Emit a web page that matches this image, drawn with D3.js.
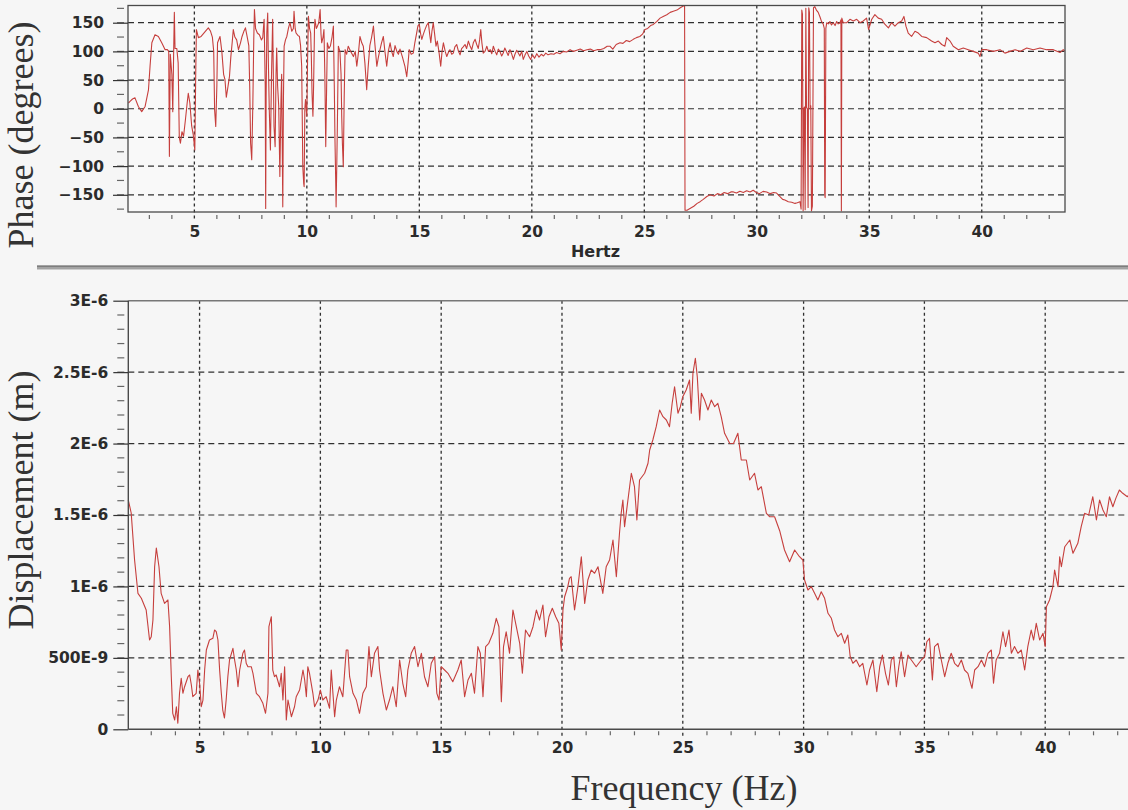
<!DOCTYPE html>
<html>
<head>
<meta charset="utf-8">
<script src="https://cdn.jsdelivr.net/npm/d3@7"></script>
<style>
  html, body { margin: 0; padding: 0; background: #f6f6f6; }
  svg { display: block; }
  .tick text { font-family: "DejaVu Sans", Verdana, sans-serif; font-weight: bold; font-size: 15.5px; fill: #2b2b2b; }
  .axis-title { font-family: "Liberation Serif", "Times New Roman", serif; font-size: 36px; fill: #333; }
  .unit-label { font-family: "DejaVu Sans", Verdana, sans-serif; font-weight: bold; font-size: 16px; fill: #2b2b2b; }
</style>
</head>
<body>
<svg id="chart" width="1128" height="810"></svg>
<script>
// ---- Phase response (degrees) vs frequency (Hz) ----
const phaseFreq = [
  2.07,2.14,2.25,2.36,2.51,2.66,2.81,2.96,3.03,3.11,3.25,3.40,3.55,3.70,3.80,3.86,3.89,3.93,4.00,4.04,
  4.08,4.11,4.14,4.22,4.28,4.33,4.38,4.45,4.52,4.60,4.68,4.73,4.80,4.88,4.95,5.02,5.06,5.09,5.18,5.30,
  5.45,5.62,5.72,5.80,5.86,5.90,5.95,6.00,6.03,6.14,6.22,6.30,6.36,6.42,6.48,6.56,6.62,6.68,6.73,6.80,
  6.88,6.96,7.05,7.12,7.20,7.27,7.35,7.42,7.46,7.50,7.55,7.60,7.64,7.67,7.72,7.80,7.89,7.98,8.04,8.10,
  8.15,8.17,8.19,8.22,8.26,8.29,8.33,8.38,8.43,8.48,8.51,8.54,8.59,8.63,8.66,8.70,8.75,8.80,8.85,8.88,
  8.91,8.93,8.96,8.99,9.05,9.11,9.18,9.25,9.33,9.40,9.43,9.48,9.52,9.60,9.67,9.72,9.77,9.80,9.82,9.86,
  9.88,9.91,9.94,9.97,10.00,10.03,10.07,10.12,10.17,10.20,10.23,10.27,10.30,10.34,10.36,10.42,10.47,10.53,10.59,10.63,
  10.66,10.72,10.76,10.80,10.84,10.88,10.91,10.98,11.05,11.12,11.18,11.22,11.25,11.28,11.30,11.33,11.36,11.40,11.47,11.52,
  11.55,11.58,11.62,11.66,11.70,11.77,11.84,11.95,12.07,12.15,12.22,12.30,12.36,12.44,12.51,12.58,12.66,12.72,12.80,12.88,
  12.96,13.03,13.11,13.18,13.25,13.32,13.40,13.47,13.55,13.62,13.70,13.77,13.84,13.92,14.00,14.07,14.14,14.25,14.36,14.44,
  14.50,14.55,14.64,14.73,14.80,14.88,14.94,15.00,15.06,15.11,15.18,15.25,15.32,15.40,15.46,15.51,15.56,15.62,15.68,15.74,
  15.80,15.87,15.95,16.01,16.07,16.15,16.22,16.29,16.36,16.44,16.51,16.58,16.66,16.74,16.81,16.88,16.95,17.03,17.10,17.18,
  17.25,17.33,17.40,17.48,17.55,17.62,17.68,17.73,17.78,17.84,17.92,18.00,18.07,18.15,18.22,18.29,18.37,18.44,18.51,18.58,
  18.66,18.73,18.80,18.88,18.95,19.03,19.10,19.18,19.25,19.33,19.40,19.47,19.55,19.62,19.70,19.78,19.86,19.95,20.03,20.12,
  20.22,20.32,20.42,20.52,20.62,20.72,20.85,20.98,21.10,21.25,21.40,21.55,21.70,21.85,22.00,22.15,22.30,22.45,22.60,22.75,
  22.90,23.03,23.20,23.35,23.47,23.60,23.75,23.92,24.05,24.20,24.35,24.51,24.65,24.80,24.92,25.03,25.15,25.28,25.40,25.55,
  25.70,25.84,26.00,26.15,26.29,26.45,26.60,26.73,26.79,26.81,26.90,27.03,27.20,27.35,27.48,27.62,27.78,27.92,28.10,28.25,
  28.40,28.55,28.70,28.85,28.96,29.10,29.25,29.40,29.55,29.70,29.84,29.98,30.12,30.28,30.44,30.60,30.75,30.88,31.03,31.15,
  31.25,31.40,31.55,31.70,31.80,31.92,31.97,32.00,32.03,32.06,32.09,32.12,32.15,32.18,32.21,32.25,32.28,32.31,32.34,32.37,
  32.40,32.43,32.47,32.52,32.58,32.65,32.73,32.81,32.88,32.95,33.00,33.02,33.04,33.07,33.11,33.18,33.25,33.32,33.40,33.48,
  33.55,33.62,33.70,33.74,33.76,33.78,33.84,33.92,34.00,34.14,34.29,34.44,34.59,34.73,34.88,34.97,35.11,35.25,35.40,35.55,
  35.70,35.85,35.99,36.14,36.29,36.44,36.54,36.63,36.73,36.88,37.03,37.18,37.33,37.55,37.77,37.92,38.07,38.22,38.36,38.44,
  38.59,38.73,38.96,39.18,39.40,39.62,39.84,39.92,40.00,40.22,40.51,40.81,41.03,41.25,41.48,41.70,42.00,42.29,42.59,42.88,
  43.18,43.48,43.62,43.70
];
const phaseDeg = [
  10,13,17,19,4,-5,4,33,74,115,129,126,115,103,103,100,-83,95,60,-5,
  100,168,105,105,80,-50,-60,-40,-48,-20,10,27,10,-30,-45,-72,60,138,124,126,
  133,141,135,125,100,-2,-31,40,115,126,100,60,51,20,35,56,90,115,138,125,
  120,103,115,126,135,141,125,110,40,-60,-89,10,120,173,140,132,129,120,124,156,
  40,-174,20,132,167,80,-2,-72,60,156,60,-31,-66,60,106,40,4,-118,16,60,
  -80,-171,20,109,120,126,140,150,135,140,170,140,132,128,126,110,74,-30,-101,-130,
  -136,0,16,0,-13,80,161,140,132,90,27,-13,40,140,156,140,144,150,173,130,
  115,125,138,60,-66,40,115,105,110,125,144,40,-54,-120,-171,-100,-19,109,100,60,
  -13,-60,-101,20,103,95,109,100,91,100,74,100,126,115,109,80,33,70,110,125,
  144,110,74,90,103,115,126,100,74,100,115,100,91,110,100,95,104,90,74,56,
  80,103,95,97,115,132,145,147,130,121,130,138,145,150,130,115,135,150,130,109,
  118,100,74,100,115,100,91,98,103,95,97,108,112,100,94,105,108,112,105,118,
  110,103,115,121,112,105,120,138,115,97,100,109,100,103,96,109,100,94,104,100,
  92,97,106,99,93,103,96,86,95,102,97,92,100,86,94,100,92,86,94,88,
  96,90,95,92,97,94,96,95,98,96,100,99,103,100,102,104,101,103,104,101,
  103,103,105,109,109,104,112,115,114,119,117,121,124,126,130,138,140,145,147,152,
  158,161,164,168,170,172,176,179,179,-177,-177,-174,-170,-165,-162,-158,-153,-150,-152,-148,
  -150,-146,-148,-145,-145,-147,-144,-146,-143,-145,-142,-146,-148,-144,-145,-148,-146,-147,-153,-158,
  -159,-162,-163,-165,-164,-162,-175,172,165,-178,0,3,-176,175,2,0,-172,176,168,0,
  5,-178,-170,176,178,172,168,160,152,148,140,-150,-155,140,150,148,152,146,150,145,
  152,148,150,155,-178,158,150,150,150,156,153,156,150,153,158,138,156,164,158,156,
  147,141,150,144,150,153,161,144,132,126,135,132,126,124,118,115,118,112,109,124,
  118,109,103,106,103,100,97,91,103,103,100,103,97,100,103,100,106,103,106,103,
  103,98,103,100
];

// ---- Displacement amplitude (nanometres) vs frequency (Hz) ----
const dispFreq = [
  2.05,2.17,2.31,2.45,2.59,2.79,2.93,3.00,3.07,3.14,3.21,3.32,3.41,3.55,3.69,3.76,3.83,3.89,3.97,4.04,
  4.10,4.17,4.24,4.31,4.38,4.52,4.59,4.66,4.72,4.86,4.93,5.00,5.07,5.14,5.21,5.28,5.41,5.55,5.62,5.69,
  5.76,5.83,5.90,5.96,6.03,6.10,6.17,6.24,6.38,6.45,6.52,6.59,6.66,6.79,6.86,6.93,7.00,7.14,7.21,7.35,
  7.48,7.62,7.73,7.83,7.87,7.97,8.03,8.10,8.17,8.31,8.38,8.45,8.52,8.59,8.66,8.80,8.93,9.00,9.14,9.28,
  9.35,9.42,9.48,9.55,9.69,9.76,9.90,10.00,10.10,10.24,10.38,10.45,10.59,10.66,10.79,10.93,11.07,11.14,11.21,11.35,
  11.49,11.62,11.76,11.90,12.01,12.11,12.24,12.38,12.45,12.59,12.73,12.86,13.00,13.14,13.28,13.41,13.53,13.62,13.76,13.90,
  14.04,14.18,14.31,14.45,14.59,14.73,14.82,14.91,15.00,15.14,15.28,15.48,15.69,15.83,15.97,16.11,16.25,16.38,16.52,16.62,
  16.73,16.84,16.97,17.14,17.28,17.39,17.49,17.58,17.69,17.83,17.97,18.11,18.25,18.36,18.49,18.66,18.80,18.94,19.07,19.21,
  19.32,19.46,19.60,19.74,19.87,19.97,20.04,20.11,20.24,20.31,20.38,20.52,20.66,20.80,20.94,21.07,21.21,21.35,21.49,21.69,
  21.83,21.97,22.11,22.25,22.38,22.45,22.52,22.59,22.66,22.87,23.00,23.10,23.21,23.42,23.56,23.63,23.76,23.90,24.04,24.18,
  24.32,24.45,24.56,24.66,24.80,24.90,25.00,25.14,25.28,25.35,25.42,25.52,25.60,25.70,25.77,25.90,26.04,26.18,26.32,26.45,
  26.59,26.73,26.94,27.10,27.28,27.42,27.63,27.77,27.97,28.11,28.25,28.46,28.59,28.80,29.01,29.21,29.42,29.63,29.83,29.97,
  30.04,30.18,30.32,30.46,30.59,30.73,30.87,31.01,31.15,31.28,31.42,31.56,31.70,31.83,31.93,32.04,32.18,32.32,32.45,32.62,
  32.73,32.87,33.03,33.15,33.26,33.39,33.51,33.63,33.73,33.84,33.94,34.04,34.18,34.32,34.46,34.66,34.87,35.01,35.10,35.21,
  35.33,35.42,35.56,35.70,35.84,35.97,36.11,36.25,36.39,36.53,36.66,36.80,36.97,37.08,37.22,37.36,37.49,37.63,37.77,37.86,
  37.97,38.11,38.25,38.36,38.50,38.60,38.73,38.87,39.01,39.15,39.28,39.42,39.52,39.63,39.77,39.91,40.00,40.05,40.18,40.32,
  40.39,40.53,40.60,40.67,40.81,41.02,41.15,41.35,41.49,41.63,41.80,41.97,42.12,42.25,42.39,42.53,42.66,42.80,42.93,43.07,
  43.21,43.40,43.55,43.70
];
const dispNm = [
  1605,1514,1185,951,917,835,625,648,765,1138,1269,1138,951,881,905,718,368,112,65,158,
  42,252,357,252,298,368,380,310,228,252,415,322,158,205,415,555,625,637,695,683,
  625,415,252,135,79,205,368,485,567,485,415,298,415,532,555,462,438,438,392,252,
  228,182,112,252,718,788,415,368,380,298,392,205,438,65,205,88,158,228,275,415,
  345,228,438,392,252,158,205,275,205,228,147,415,88,205,298,228,555,555,368,252,
  205,112,252,298,579,368,532,579,415,252,135,205,298,158,485,322,228,415,532,579,
  438,532,368,298,462,508,252,205,438,415,392,333,415,485,228,345,392,252,579,532,
  228,579,602,672,777,718,193,579,683,532,835,718,602,392,695,648,718,835,765,870,
  648,788,847,788,742,555,835,928,998,1057,1068,835,998,1208,881,1045,1115,1092,1138,951,
  1138,1185,1325,1068,1372,1512,1605,1418,1512,1792,1698,1465,1745,1792,1862,1955,2025,2118,2235,2188,
  2165,2118,2282,2398,2212,2258,2328,2375,2445,2212,2492,2597,2468,2165,2352,2305,2235,2305,2258,2282,
  2188,2072,2002,2000,2072,1885,1885,1745,1792,1675,1698,1512,1488,1488,1390,1255,1173,1255,1208,1185,
  1045,975,998,951,905,963,917,812,777,695,648,672,602,660,508,462,485,438,462,310,
  415,485,263,438,520,392,310,485,508,298,438,543,368,520,485,438,485,508,613,637,
  345,579,602,485,368,462,532,462,438,485,415,392,287,415,438,485,438,532,555,322,
  485,532,683,579,695,532,579,532,555,415,579,695,625,742,625,672,579,858,905,1000,
  1115,998,1208,1138,1278,1325,1232,1302,1418,1512,1500,1628,1465,1605,1535,1488,1628,1558,1620,1675,
  1652,1628,1660,1640
];

// ---- Axis ticks and labels ----
const freqTicks = [5, 10, 15, 20, 25, 30, 35, 40];
const phaseTicks = [-150, -100, -50, 0, 50, 100, 150];
const dispTicks = [0, 500, 1000, 1500, 2000, 2500, 3000];
const dispTickLabels = ["0", "500E-9", "1E-6", "1.5E-6", "2E-6", "2.5E-6", "3E-6"];
const freqDomain = [2.05, 43.7];

const W = 1128, H = 810;
const svg = d3.select("#chart");
svg.append("rect").attr("width", W).attr("height", H).attr("fill", "#f6f6f6");

const traceColor = "#c63f3d";
const gridColor = "#303030";

// ================= Phase panel =================
const P = { left: 128, right: 1065, top: 5.5, bottom: 212 };
const xP = d3.scaleLinear().domain(freqDomain).range([P.left, P.right]);
const yP = d3.scaleLinear().domain([-180, 180]).range([P.bottom, P.top]);

svg.append("clipPath").attr("id", "clipPhase")
  .append("rect").attr("x", P.left).attr("y", P.top)
  .attr("width", P.right - P.left).attr("height", P.bottom - P.top);

const gP = svg.append("g");
gP.append("rect").attr("x", P.left).attr("y", P.top)
  .attr("width", P.right - P.left).attr("height", P.bottom - P.top)
  .attr("fill", "#f9f9f9");

gP.selectAll(".hgrid").data(phaseTicks).join("line").attr("class", "hgrid")
  .attr("x1", P.left).attr("x2", P.right)
  .attr("y1", d => yP(d)).attr("y2", d => yP(d))
  .attr("stroke", gridColor).attr("stroke-width", 1.2).attr("stroke-dasharray", "6,4");
gP.selectAll(".vgrid").data(freqTicks).join("line").attr("class", "vgrid")
  .attr("x1", d => xP(d)).attr("x2", d => xP(d))
  .attr("y1", P.top).attr("y2", P.bottom + 8)
  .attr("stroke", gridColor).attr("stroke-width", 1.3).attr("stroke-dasharray", "3,3");

// minor ticks
gP.selectAll(".ymin").data(d3.range(-175, 176, 25)).join("line").attr("class", "ymin")
  .attr("x1", P.left - 11).attr("x2", P.left - 4)
  .attr("y1", d => yP(d)).attr("y2", d => yP(d))
  .attr("stroke", "#666").attr("stroke-width", 1.2);
gP.selectAll(".xmin").data(d3.range(3, 44, 1).filter(d => d % 5 !== 0)).join("line").attr("class", "xmin")
  .attr("x1", d => xP(d)).attr("x2", d => xP(d))
  .attr("y1", P.bottom + 3).attr("y2", P.bottom + 7)
  .attr("stroke", "#666").attr("stroke-width", 1.2);

const phaseLine = d3.line().x(d => xP(d[0])).y(d => yP(d[1]));
gP.append("path")
  .datum(d3.zip(phaseFreq, phaseDeg))
  .attr("d", phaseLine)
  .attr("fill", "none").attr("stroke", traceColor).attr("stroke-width", 1.1)
  .attr("stroke-linejoin", "round")
  .attr("clip-path", "url(#clipPhase)");

gP.append("rect").attr("x", P.left).attr("y", P.top)
  .attr("width", P.right - P.left).attr("height", P.bottom - P.top)
  .attr("fill", "none").attr("stroke", "#4a4a4a").attr("stroke-width", 1.3);

const axPY = gP.append("g").attr("transform", `translate(${P.left},0)`).attr("color", "#333")
  .call(d3.axisLeft(yP).tickValues(phaseTicks).tickSize(15).tickPadding(9));
axPY.select(".domain").remove();
axPY.selectAll(".tick line").attr("stroke-width", 1.2);

const axPX = gP.append("g").attr("transform", `translate(0,${P.bottom})`).attr("color", "#333")
  .call(d3.axisBottom(xP).tickValues(freqTicks).tickSize(0).tickPadding(14));
axPX.select(".domain").remove();

gP.append("text").attr("class", "unit-label")
  .attr("x", 595.5).attr("y", 257).attr("text-anchor", "middle").text("Hertz");

svg.append("text").attr("class", "axis-title")
  .attr("transform", "translate(33,135) rotate(-90)")
  .attr("text-anchor", "middle").text("Phase (degrees)");

// separator between the panels
svg.append("rect").attr("x", 37).attr("y", 265).attr("width", W - 37).attr("height", 4.5).attr("fill", "#a3a3a3");
svg.append("line").attr("x1", 37).attr("x2", W).attr("y1", 266.5).attr("y2", 266.5)
  .attr("stroke", "#7d7d7d").attr("stroke-width", 1.2);

// ================= Displacement panel =================
const D = { left: 128.3, right: 1134.6, top: 300.7, bottom: 729.3 };
const xD = d3.scaleLinear().domain(freqDomain).range([D.left, D.right]);
const yD = d3.scaleLinear().domain([0, 3000]).range([D.bottom, D.top]);

const gD = svg.append("g");

gD.selectAll(".hgrid").data(dispTicks.filter(d => d > 0 && d < 3000)).join("line").attr("class", "hgrid")
  .attr("x1", D.left).attr("x2", W)
  .attr("y1", d => yD(d)).attr("y2", d => yD(d))
  .attr("stroke", gridColor).attr("stroke-width", 1.2).attr("stroke-dasharray", "6,4");
gD.selectAll(".vgrid").data(freqTicks).join("line").attr("class", "vgrid")
  .attr("x1", d => xD(d)).attr("x2", d => xD(d))
  .attr("y1", D.top).attr("y2", D.bottom + 7)
  .attr("stroke", gridColor).attr("stroke-width", 1.3).attr("stroke-dasharray", "3,3");

gD.selectAll(".ymin").data(d3.range(100, 3000, 100)).join("line").attr("class", "ymin")
  .attr("x1", D.left - 11).attr("x2", D.left - 4)
  .attr("y1", d => yD(d)).attr("y2", d => yD(d))
  .attr("stroke", "#666").attr("stroke-width", 1.2);
gD.selectAll(".xmin").data(d3.range(3, 44, 1).filter(d => d % 5 !== 0)).join("line").attr("class", "xmin")
  .attr("x1", d => xD(d)).attr("x2", d => xD(d))
  .attr("y1", D.bottom + 2).attr("y2", D.bottom + 6)
  .attr("stroke", "#666").attr("stroke-width", 1.2);

const dispLine = d3.line().x(d => xD(d[0])).y(d => yD(d[1]));
gD.append("path")
  .datum(d3.zip(dispFreq, dispNm))
  .attr("d", dispLine)
  .attr("fill", "none").attr("stroke", traceColor).attr("stroke-width", 1.1)
  .attr("stroke-linejoin", "round");

// frame: top border, left and bottom axis lines
gD.append("line").attr("x1", D.left).attr("x2", W).attr("y1", D.top).attr("y2", D.top)
  .attr("stroke", "#777").attr("stroke-width", 1.5);
gD.append("line").attr("x1", D.left).attr("x2", D.left).attr("y1", D.top).attr("y2", D.bottom)
  .attr("stroke", "#4a4a4a").attr("stroke-width", 1.4);
gD.append("line").attr("x1", D.left).attr("x2", W).attr("y1", D.bottom).attr("y2", D.bottom)
  .attr("stroke", "#4a4a4a").attr("stroke-width", 1.4);

const axDY = gD.append("g").attr("transform", `translate(${D.left},0)`).attr("color", "#333")
  .call(d3.axisLeft(yD).tickValues(dispTicks)
    .tickFormat((d, i) => dispTickLabels[i]).tickSize(15).tickPadding(5));
axDY.select(".domain").remove();
axDY.selectAll(".tick line").attr("stroke-width", 1.2);

const axDX = gD.append("g").attr("transform", `translate(0,${D.bottom})`).attr("color", "#333")
  .call(d3.axisBottom(xD).tickValues(freqTicks).tickSize(0).tickPadding(13));
axDX.select(".domain").remove();

svg.append("text").attr("class", "axis-title")
  .attr("transform", "translate(33,500) rotate(-90)")
  .attr("text-anchor", "middle").text("Displacement (m)");

svg.append("text").attr("class", "axis-title")
  .attr("x", 684).attr("y", 800).attr("text-anchor", "middle").text("Frequency (Hz)");
</script>
</body>
</html>
